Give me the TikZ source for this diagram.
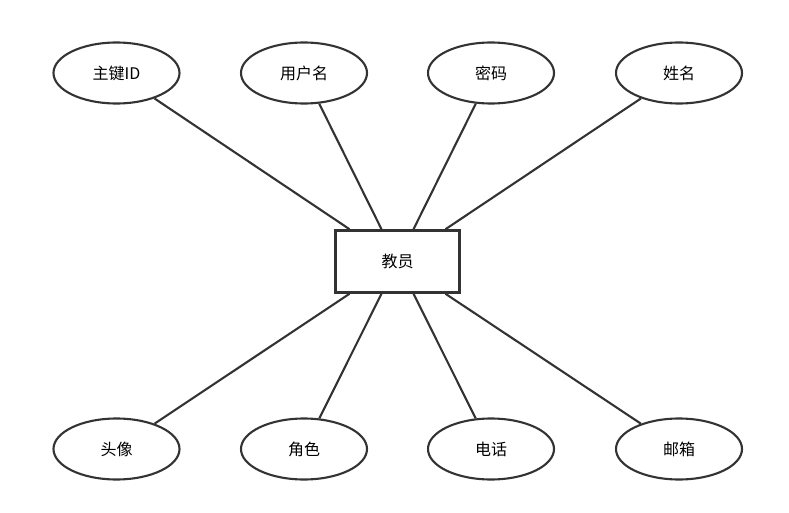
\documentclass[tikz,border=0pt]{standalone}
\usepackage{fontspec}
\setmainfont{Noto Sans CJK SC}
\usetikzlibrary{shapes.geometric,calc}

\tikzset{
    attr/.style={ellipse, draw=black!80, line width=2.1pt, minimum width=126pt, minimum height=61pt, inner sep=0pt, font=\fontsize{16}{19}\selectfont},
    entity/.style={rectangle, draw=black!80, line width=2.6pt, minimum width=124pt, minimum height=62pt, inner sep=0pt, font=\fontsize{16}{19}\selectfont},
    link/.style={draw=black!80, line width=2.1pt}
}

\begin{document}
\begin{tikzpicture}[x=1pt, y=-1pt]
    \useasboundingbox (0,0) rectangle (789,513);

    % Entity
    \node[entity] (teacher) at (397.5,261.5) {教员};

    % Attributes above
    \node[attr] (pk) at (116.5,73) {主键ID};
    \node[attr] (uname) at (304,73) {用户名};
    \node[attr] (pwd) at (491,73) {密码};
    \node[attr] (name) at (679,73) {姓名};

    % Attributes below
    \node[attr] (avatar) at (116.5,449) {头像};
    \node[attr] (role) at (304,449) {角色};
    \node[attr] (phone) at (491,449) {电话};
    \node[attr] (mail) at (679,449) {邮箱};

    % Anchor points on the entity box
    \coordinate (t1) at ($(teacher.north)+(-48,0)$);
    \coordinate (t2) at ($(teacher.north)+(-16,0)$);
    \coordinate (t3) at ($(teacher.north)+(16,0)$);
    \coordinate (t4) at ($(teacher.north)+(48,0)$);
    \coordinate (b1) at ($(teacher.south)+(-48,0)$);
    \coordinate (b2) at ($(teacher.south)+(-16,0)$);
    \coordinate (b3) at ($(teacher.south)+(16,0)$);
    \coordinate (b4) at ($(teacher.south)+(48,0)$);

    % Connectors
    \draw[link] (t1) -- (pk);
    \draw[link] (t2) -- (uname);
    \draw[link] (t3) -- (pwd);
    \draw[link] (t4) -- (name);
    \draw[link] (b1) -- (avatar);
    \draw[link] (b2) -- (role);
    \draw[link] (b3) -- (phone);
    \draw[link] (b4) -- (mail);
\end{tikzpicture}
\end{document}
